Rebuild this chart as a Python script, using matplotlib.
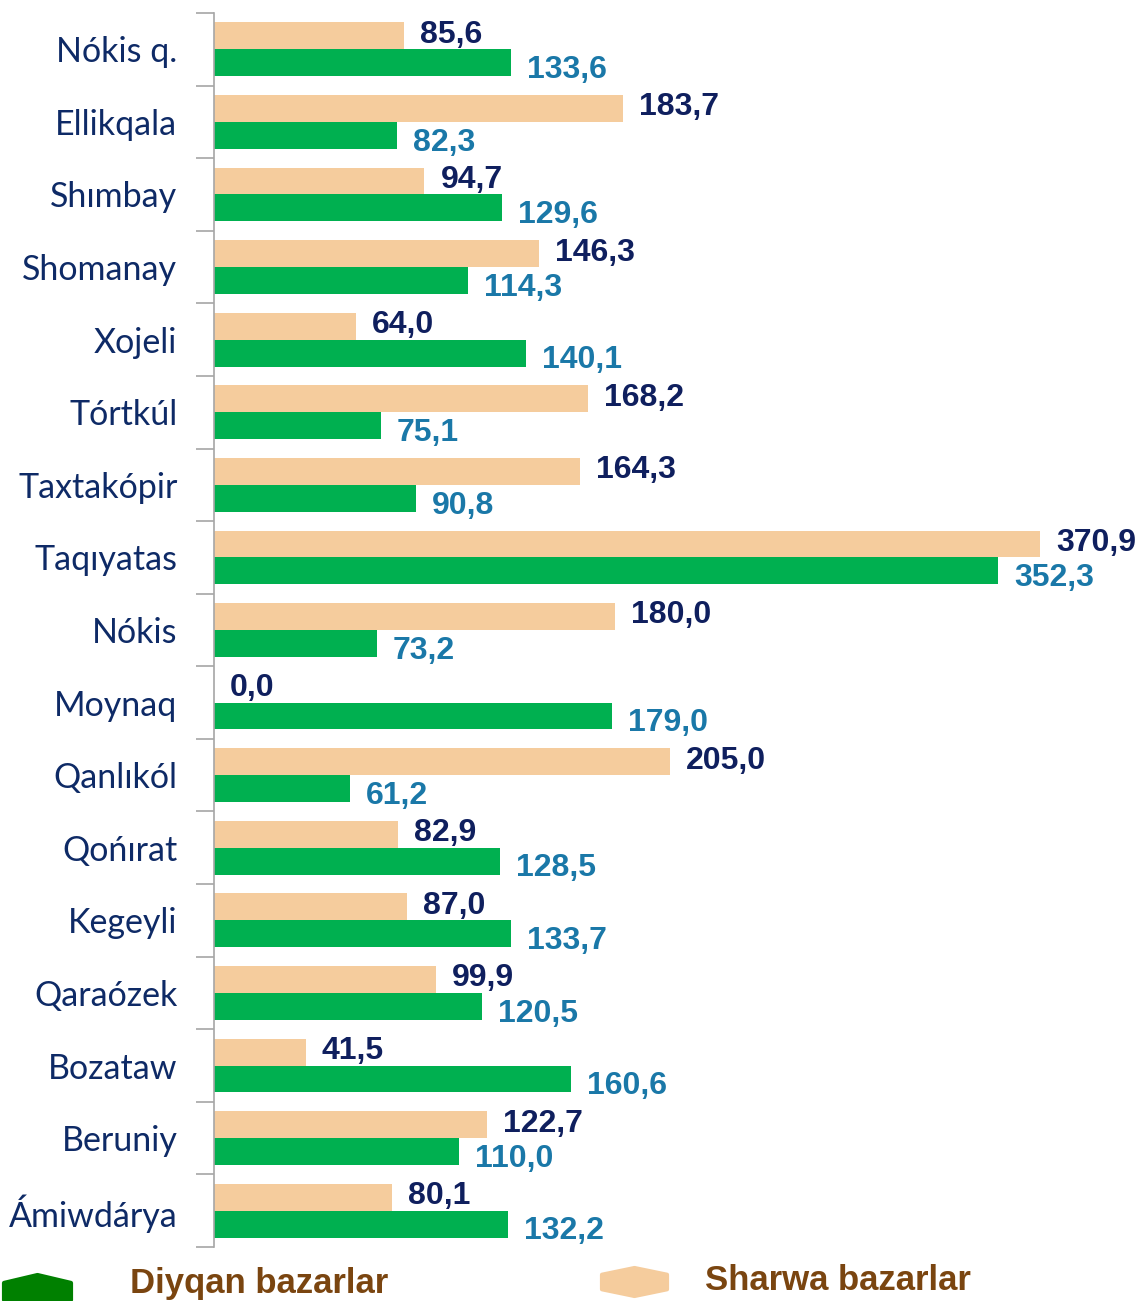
import numpy as np
import matplotlib.pyplot as plt
from matplotlib.patches import Polygon
from matplotlib import font_manager

regions = ["Nókis q.", "Ellikqala", "Shımbay", "Shomanay", "Xojeli", "Tórtkúl",
           "Taxtakópir", "Taqıyatas", "Nókis", "Moynaq", "Qanlıkól", "Qońırat",
           "Kegeyli", "Qaraózek", "Bozataw", "Beruniy", "Ámiwdárya"]
sharwa = [85.6, 183.7, 94.7, 146.3, 64.0, 168.2, 164.3, 370.9, 180.0, 0.0,
          205.0, 82.9, 87.0, 99.9, 41.5, 122.7, 80.1]
diyqan = [133.6, 82.3, 129.6, 114.3, 140.1, 75.1, 90.8, 352.3, 73.2, 179.0,
          61.2, 128.5, 133.7, 120.5, 160.6, 110.0, 132.2]
legend_names = ["Diyqan bazarlar", "Sharwa bazarlar"]

peach = "#f5cc9d"
green = "#00b050"
navy = "#0f1f5e"
teal = "#1a78a8"
cat_color = "#0e2a66"

names = {f.name for f in font_manager.fontManager.ttflist}
narrow = "Liberation Sans Narrow" if "Liberation Sans Narrow" in names else "Liberation Sans"

W, H = 1140, 1301
fig = plt.figure(figsize=(W / 100, H / 100), dpi=100)
ax = fig.add_axes([213.5 / W, 1 - 1247 / H, 926.5 / W, 1234 / H])

y = np.arange(len(regions))
h = 0.37
ax.barh(y - 0.185, sharwa, height=h, color=peach, zorder=2)
ax.barh(y + 0.185, diyqan, height=h, color=green, zorder=2)

ax.set_xlim(0, 926.5 / 2.228)
ax.set_ylim(len(regions) - 0.5, -0.5)

for i in range(len(regions)):
    ax.annotate(f"{sharwa[i]:.1f}".replace(".", ","), (sharwa[i], i - 0.2),
                xytext=(11.5, 0), textcoords="offset points", va="center", ha="left",
                fontsize=23, fontweight="bold", color=navy,
                family="Liberation Sans", annotation_clip=False)
    ax.annotate(f"{diyqan[i]:.1f}".replace(".", ","), (diyqan[i], i + 0.285),
                xytext=(11.5, 0), textcoords="offset points", va="center", ha="left",
                fontsize=23, fontweight="bold", color=teal,
                family="Liberation Sans", annotation_clip=False)

# category labels
ax.set_yticks(y)
ax.set_yticklabels(regions, fontsize=24.5, color=cat_color, family="Lato")
ax.tick_params(axis="y", which="major", length=0, pad=26)
ax.set_yticks(np.arange(len(regions) + 1) - 0.5, minor=True)
ax.tick_params(axis="y", which="minor", length=13, color="#a6a6a6", width=1.2)
ax.set_xticks([])
for s in ["top", "right", "bottom"]:
    ax.spines[s].set_visible(False)
ax.spines["left"].set_color("#a6a6a6")
ax.spines["left"].set_linewidth(1.2)

# legend
def hexagon(x0, x1, ytop, ybot, color):
    xm = (x0 + x1) / 2
    yt = ytop + (ybot - ytop) * 0.24
    yb = ybot - (ybot - ytop) * 0.24
    xs = [x0, xm, x1, x1, xm, x0]
    ys = [yt, ytop, yt, yb, ybot, yb]
    pts = [(px / W, 1 - py / H) for px, py in zip(xs, ys)]
    fig.patches.append(Polygon(pts, closed=True, transform=fig.transFigure,
                               facecolor=color, edgecolor=color, joinstyle="round",
                               linewidth=3))

hexagon(4, 71, 1275, 1308, "#008000")
hexagon(602, 667, 1268, 1296, peach)
fig.text(130 / W, 1 - 1283 / H, legend_names[0], fontsize=25, fontweight="bold",
         color="#7a4510", family=narrow, va="center", ha="left")
fig.text(705 / W, 1 - 1281 / H, legend_names[1], fontsize=25, fontweight="bold",
         color="#7a4510", family=narrow, va="center", ha="left")

fig.savefig("out.png", dpi=100)
